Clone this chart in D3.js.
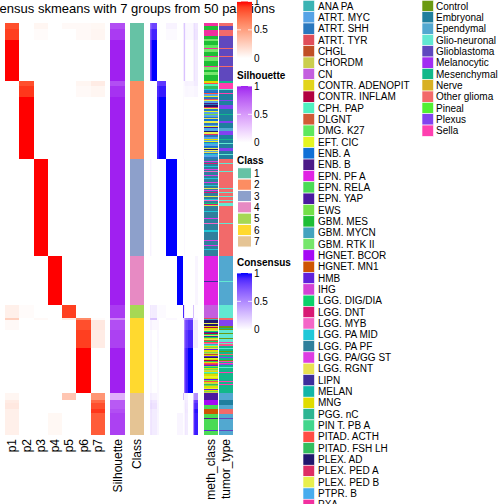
<!DOCTYPE html>
<html><head><meta charset="utf-8">
<script src="https://cdn.jsdelivr.net/npm/d3@7"></script>
<style>
body{margin:0;background:#fff}
svg{display:block}
text{font-family:"Liberation Sans",Arial,Helvetica,sans-serif;fill:#000}
</style>
</head><body>
<svg id="c" width="504" height="504"></svg>
<script>
// ---------------- DATA ----------------
const titleText = "consensus skmeans with 7 groups from 50 partitions";
const classes = [1,2,3,4,5,6,7];
const classColors = ["#66C2A5","#FC8D62","#8DA0CB","#E78AC3","#A6D854","#FFD92F","#E5C494"];
const columnLabels = ["p1","p2","p3","p4","p5","p6","p7"];

// row segments (sample groups sharing the same membership values)
const segClass = [1,1,1, 2,2,2, 3, 4, 5, 6,6,6,6, 7,7,7,7,7];
const segSize  = [6,11,41, 5,11,62, 97, 49, 13, 2,10,18,45, 7,3,6,4,22];
const p1 = [0.85,0.9,1, 0,0,0, 0, 0, 0.08, 0.25,0.03,0,0, 0.05,0.1,0.12,0.08,0.08];
const p2 = [0,0,0, 0.85,0.92,1, 0, 0, 0.02, 0,0,0,0, 0,0,0,0,0];
const p3 = [0.05,0.02,0, 0,0,0, 1, 0, 0, 0.03,0,0,0, 0,0,0,0,0];
const p4 = [0,0,0, 0,0,0, 0, 1, 0, 0,0,0,0, 0,0,0,0,0.04];
const p5 = [0.03,0,0, 0,0,0, 0, 0, 0.9, 0.1,0,0,0, 0.3,0,0,0,0];
const p6 = [0.03,0.03,0, 0.05,0.03,0, 0, 0, 0, 0.6,0.85,0.9,1, 0,0,0,0,0];
const p7 = [0.04,0.05,0, 0.1,0.05,0, 0, 0, 0, 0.02,0.12,0.1,0, 0.55,0.75,0.85,0.92,0.8];
const silhouette = [0.85,0.92,1, 0.85,0.95,1, 1, 1, 0.92, 0.6,0.85,0.9,1, 0.4,0.8,0.8,0.85,0.9];
const segConsensus = [0.8,0.92,1, 0.85,0.95,1, 1, 1, 0.95, 0.6,0.85,0.92,1, 0.5,0.85,0.92,1,0.97];

const methNames = ["ANA PA","ATRT. MYC","ATRT. SHH","ATRT. TYR","CHGL","CHORDM","CN","CONTR. ADENOPIT","CONTR. INFLAM","CPH. PAP","DLGNT","DMG. K27","EFT. CIC","ENB. A","ENB. B","EPN. PF A","EPN. RELA","EPN. YAP","EWS","GBM. MES","GBM. MYCN","GBM. RTK II","HGNET. BCOR","HGNET. MN1","HMB","IHG","LGG. DIG/DIA","LGG. DNT","LGG. MYB","LGG. PA MID","LGG. PA PF","LGG. PA/GG ST","LGG. RGNT","LIPN","MELAN","MNG","PGG. nC","PIN T. PB A","PITAD. ACTH","PITAD. FSH LH","PLEX. AD","PLEX. PED A","PLEX. PED B","PTPR. B","PXA"];
const methColors = ["#3BB3B3","#56A3E6","#2A78BE","#E04E5A","#C04F26","#CBCE4F","#C45FDF","#E2D41C","#B1023F","#50F0C0","#D15B36","#5EE85E","#E4F522","#1070D6","#4C1A88","#E023E3","#4ADB55","#4B18A0","#73E048","#1EBE35","#42A3BE","#76E66C","#A50AF5","#CE5402","#6021DC","#D442D5","#0DD26A","#D81A74","#F466C7","#20C8D8","#2F7F9C","#DD3DE3","#E9E151","#3E2E9C","#12B6A8","#E0DC00","#2DB592","#42D68C","#FF4D45","#33BE5E","#21176E","#DE2E65","#E8EF4E","#47ACEE","#F2309F"];
const tumorNames = ["Control","Embryonal","Ependymal","Glio-neuronal","Glioblastoma","Melanocytic","Mesenchymal","Nerve","Other glioma","Pineal","Plexus","Sella"];
const tumorColors = ["#6A9A12","#1F7F9E","#52A8D0","#62E8D2","#5F48BE","#A22EF2","#12B88A","#D8B024","#F26A6A","#52F032","#8242F0","#FF3FB0"];

// annotation runs [label, number of samples], in row order
const methRuns = [
 // class 1
 ["PXA",3],["GBM. MES",4],["PXA",6],["GBM. MES",3],["GBM. RTK II",2],["GBM. MES",4],["DMG. K27",3],["PXA",1],["GBM. RTK II",3],["GBM. MES",4],["PXA",1],["GBM. RTK II",4],["GBM. MES",5],["PXA",1],["GBM. RTK II",3],["GBM. MES",2],["GBM. RTK II",3],["GBM. MES",6],
 // class 2
 ["MNG",2],["PITAD. ACTH",1],["CPH. PAP",2],["PITAD. FSH LH",3],["LGG. PA MID",1],["ATRT. SHH",2],["ENB. A",1],["PITAD. ACTH",1],["ATRT. MYC",2],["EFT. CIC",1],["ATRT. SHH",2],["ATRT. TYR",1],["PLEX. PED B",1],["ATRT. MYC",2],["ENB. B",1],["ATRT. SHH",1],["PLEX. AD",2],["PLEX. PED A",1],["PLEX. PED B",1],["ATRT. SHH",2],["EFT. CIC",1],["ATRT. MYC",2],["EWS",1],["ATRT. MYC",2],["ATRT. SHH",1],["LGG. RGNT",1],["ENB. A",2],["PLEX. PED B",2],["ATRT. SHH",2],["ATRT. MYC",1],["EFT. CIC",1],["ENB. B",1],["PTPR. B",2],["ATRT. MYC",1],["PLEX. AD",1],["PLEX. PED B",2],["PLEX. PED A",1],["ATRT. SHH",2],["ATRT. MYC",2],["MNG",1],["ATRT. MYC",1],["EFT. CIC",1],["ATRT. SHH",1],["LGG. PA MID",1],["ATRT. MYC",2],["ENB. A",1],["ATRT. SHH",1],["PLEX. PED B",1],["PLEX. AD",1],["PLEX. PED B",1],["ATRT. MYC",1],["LGG. RGNT",1],["ATRT. SHH",1],["LGG. PA MID",1],["ATRT. MYC",2],["ATRT. SHH",2],
 // class 3
 ["LGG. PA PF",2],["LGG. PA/GG ST",1],["LGG. PA PF",1],["LGG. DNT",1],["LGG. PA PF",2],["LGG. PA MID",1],["LGG. PA PF",2],["LGG. PA/GG ST",1],["LGG. PA PF",1],["LGG. MYB",1],["LGG. PA PF",3],["LGG. PA/GG ST",1],["LGG. PA PF",2],["LGG. PA MID",1],["LGG. PA PF",3],["LGG. PA/GG ST",1],["LGG. PA PF",2],["LGG. PA MID",1],["LGG. PA PF",2],["LGG. RGNT",1],["LGG. PA PF",1],["LGG. PA/GG ST",1],["LGG. PA PF",1],["LGG. DNT",1],["LGG. PA PF",3],["LGG. RGNT",1],["LGG. PA PF",2],["LGG. PA MID",1],["LGG. MYB",1],["LGG. PA PF",2],["LGG. DIG/DIA",1],["LGG. DNT",1],["LGG. RGNT",1],["LGG. PA PF",5],["LGG. PA MID",1],["LGG. PA PF",6],["LGG. PA/GG ST",1],["LGG. PA PF",4],["LGG. MYB",1],["LGG. PA PF",6],["LGG. PA MID",2],["LGG. PA PF",8],["LGG. PA/GG ST",1],["LGG. PA PF",4],["LGG. PA/GG ST",1],["LGG. PA PF",3],["LGG. PA MID",1],["LGG. PA PF",6],
 // class 4
 ["EPN. PF A",25],["LIPN",1],["EPN. PF A",23],
 // class 5
 ["CN",13],
 // class 6
 ["ATRT. TYR",1],["ANA PA",1],["PLEX. AD",3],["PLEX. PED B",1],["PLEX. AD",2],["CONTR. ADENOPIT",1],["CONTR. INFLAM",1],["MNG",1],["CONTR. ADENOPIT",1],["LGG. RGNT",1],["LGG. DIG/DIA",1],["LIPN",1],["CONTR. INFLAM",1],["LGG. DIG/DIA",1],["LGG. RGNT",1],["LIPN",1],["LGG. DIG/DIA",1],["CONTR. ADENOPIT",1],["LGG. RGNT",1],["DLGNT",1],["LGG. DIG/DIA",1],["PITAD. ACTH",1],["LGG. MYB",1],["ANA PA",1],["CPH. PAP",1],["MNG",1],["EWS",1],["LGG. RGNT",1],["HMB",1],["MNG",1],["CONTR. ADENOPIT",1],["EWS",1],["CHORDM",1],["CHGL",1],["MNG",1],["HMB",1],["PLEX. AD",1],["EFT. CIC",1],["MNG",1],["CONTR. INFLAM",1],["PITAD. FSH LH",1],["MNG",1],["PITAD. ACTH",1],["PLEX. PED A",1],["HMB",1],["EWS",1],["LGG. DIG/DIA",1],["MNG",1],["EWS",1],["CHORDM",1],["MNG",1],["CPH. PAP",1],["EWS",1],["MNG",2],["EFT. CIC",2],["MNG",1],["HMB",1],["EWS",1],["PITAD. ACTH",1],["MNG",1],["CHORDM",1],["PITAD. FSH LH",1],["EWS",1],["MNG",2],["EFT. CIC",1],["HMB",1],["MNG",1],["EWS",1],["CHORDM",1],
 // class 7
 ["EPN. YAP",7],["HGNET. BCOR",5],["EPN. RELA",4],["HGNET. MN1",5],["EPN. RELA",4],["ENB. B",1],["EPN. RELA",11],["HMB",1],["EPN. RELA",4]
];
const tumorRuns = [
 // class 1
 ["Other glioma",3],["Glioblastoma",4],["Other glioma",6],["Glioblastoma",12],["Other glioma",1],["Glioblastoma",7],["Other glioma",1],["Glioblastoma",9],["Other glioma",1],["Glioblastoma",14],
 // class 2
 ["Mesenchymal",2],["Sella",6],["Glio-neuronal",1],["Embryonal",3],["Sella",1],["Embryonal",6],["Plexus",1],["Embryonal",4],["Plexus",4],["Embryonal",5],["Mesenchymal",1],["Embryonal",6],["Plexus",2],["Embryonal",5],["Ependymal",3],["Plexus",4],["Embryonal",4],["Mesenchymal",1],["Embryonal",3],["Glio-neuronal",1],["Embryonal",4],["Plexus",3],["Embryonal",3],["Glio-neuronal",1],["Embryonal",4],
 // class 3
 ["Other glioma",4],["Glio-neuronal",1],["Other glioma",7],["Glio-neuronal",1],["Other glioma",16],["Glio-neuronal",1],["Other glioma",3],["Glio-neuronal",1],["Other glioma",3],["Glio-neuronal",1],["Other glioma",3],["Glio-neuronal",1],["Other glioma",2],["Glio-neuronal",3],["Other glioma",17],["Glio-neuronal",1],["Other glioma",32],
 // class 4
 ["Ependymal",25],["Glio-neuronal",1],["Ependymal",23],
 // class 5
 ["Glio-neuronal",13],
 // class 6
 ["Other glioma",2],["Plexus",6],["Control",2],["Mesenchymal",1],["Control",1],["Glio-neuronal",3],["Control",1],["Glio-neuronal",4],["Control",1],["Glio-neuronal",3],["Sella",1],["Glio-neuronal",1],["Other glioma",1],["Sella",1],["Mesenchymal",2],["Glio-neuronal",1],["Mesenchymal",2],["Control",1],["Mesenchymal",2],["Other glioma",1],["Mesenchymal",2],["Plexus",1],["Mesenchymal",2],["Control",1],["Sella",1],["Mesenchymal",1],["Sella",1],["Plexus",1],["Mesenchymal",2],["Glio-neuronal",1],["Mesenchymal",4],["Sella",1],["Mesenchymal",8],["Sella",1],["Mesenchymal",2],["Sella",1],["Mesenchymal",8],
 // class 7
 ["Ependymal",7],["Embryonal",5],["Ependymal",4],["Other glioma",5],["Ependymal",4],["Glioblastoma",1],["Ependymal",11],["Glioblastoma",1],["Ependymal",4]
];
const legendBreaks = [0, 0.5, 1];
const classLegendLabels = ["1","2","3","4","5","6","7"];

// ---------------- DRAW ----------------
const svg = d3.select("#c");
const N = d3.sum(segSize);
const y = d3.scaleLinear().domain([0, N]).range([23, 435]);
const xP = d3.scaleBand().domain(columnLabels).range([5, 105]);
const xCons = d3.scaleLinear().domain([0, N]).range([150, 198]);
const annoX = d3.scaleOrdinal().domain(["Silhouette","Class","meth_class","tumor_type"]).range([[110,125],[130,144],[204,218],[219,233]]);

const redScale = d3.scaleLinear().domain([0,1]).range(["#ffffff","#ff0000"]).interpolate(d3.interpolateLab);
const purpleScale = d3.scaleLinear().domain([0,1]).range(["#ffffff","#A020F0"]).interpolate(d3.interpolateLab);
const blueScale = d3.scaleLinear().domain([0,1]).range(["#ffffff","#0000ff"]).interpolate(d3.interpolateLab);
const classScale = d3.scaleOrdinal().domain(classes).range(classColors);
const methScale = d3.scaleOrdinal().domain(methNames).range(methColors);
const tumorScale = d3.scaleOrdinal().domain(tumorNames).range(tumorColors);

// title first (legends overlap it)
svg.append("text").attr("x", 123.5).attr("y", 13).attr("text-anchor","middle")
  .attr("font-size", 13).text(titleText);

const pArrays = [p1,p2,p3,p4,p5,p6,p7];
let acc = 0;
const segs = segSize.map((n,i) => { const s = {i, n, cls: segClass[i], start: acc, end: acc + n}; acc += n; return s; });

// membership heatmap
const gP = svg.append("g").attr("shape-rendering","crispEdges");
columnLabels.forEach((lab,k) => {
  gP.append("g").selectAll("rect").data(segs).join("rect")
    .attr("x", xP(lab)).attr("width", xP.bandwidth())
    .attr("y", d => y(d.start)).attr("height", d => y(d.end) - y(d.start))
    .attr("fill", d => redScale(pArrays[k][d.i]));
});

// silhouette & class
const gA = svg.append("g").attr("shape-rendering","crispEdges");
gA.selectAll("rect.sil").data(segs).join("rect").attr("class","sil")
  .attr("x", annoX("Silhouette")[0]).attr("width", annoX("Silhouette")[1]-annoX("Silhouette")[0])
  .attr("y", d => y(d.start)).attr("height", d => y(d.end)-y(d.start))
  .attr("fill", d => purpleScale(silhouette[d.i]));
gA.selectAll("rect.cls").data(segs).join("rect").attr("class","cls")
  .attr("x", annoX("Class")[0]).attr("width", annoX("Class")[1]-annoX("Class")[0])
  .attr("y", d => y(d.start)).attr("height", d => y(d.end)-y(d.start))
  .attr("fill", d => classScale(d.cls));

// consensus matrix
function consensus(a, b) {
  if (a.cls === b.cls) return segConsensus[a.i] * segConsensus[b.i];
  return d3.sum(pArrays, p => p[a.i] * p[b.i]);
}
svg.append("g").attr("shape-rendering","crispEdges")
  .selectAll("rect").data(d3.cross(segs, segs)).join("rect")
  .attr("x", d => xCons(d[1].start)).attr("width", d => xCons(d[1].end) - xCons(d[1].start))
  .attr("y", d => y(d[0].start)).attr("height", d => y(d[0].end) - y(d[0].start))
  .attr("fill", d => blueScale(Math.min(1, consensus(d[0], d[1]))));

// annotation runs
function runsToRects(runs) { let a = 0; return runs.map(([name, n]) => { const r = {name, start: a, end: a + n}; a += n; return r; }); }
const gR = svg.append("g").attr("shape-rendering","crispEdges");
gR.selectAll("rect.m").data(runsToRects(methRuns)).join("rect").attr("class","m")
  .attr("x", annoX("meth_class")[0]).attr("width", annoX("meth_class")[1]-annoX("meth_class")[0])
  .attr("y", d => y(d.start)).attr("height", d => y(d.end)-y(d.start))
  .attr("fill", d => methScale(d.name));
gR.selectAll("rect.t").data(runsToRects(tumorRuns)).join("rect").attr("class","t")
  .attr("x", annoX("tumor_type")[0]).attr("width", annoX("tumor_type")[1]-annoX("tumor_type")[0])
  .attr("y", d => y(d.start)).attr("height", d => y(d.end)-y(d.start))
  .attr("fill", d => tumorScale(d.name));

// bottom labels
const bottomLabels = columnLabels.map(l => ({t: l, x: xP(l) + xP.bandwidth()/2}))
  .concat(["Silhouette","Class","meth_class","tumor_type"].map(l => ({t: l, x: (annoX(l)[0]+annoX(l)[1])/2})));
svg.append("g").selectAll("text").data(bottomLabels).join("text")
  .attr("transform", d => `translate(${d.x},439) rotate(-90)`)
  .attr("text-anchor","end").attr("dy","0.35em").attr("font-size",12)
  .text(d => d.t);

// ---------------- LEGENDS ----------------
const defs = svg.append("defs");
function colorBar(id, scale, x, yTop, h, title) {
  const grad = defs.append("linearGradient").attr("id", id).attr("x1",0).attr("y1",1).attr("x2",0).attr("y2",0);
  d3.range(0, 1.0001, 0.1).forEach(t => grad.append("stop").attr("offset", t).attr("stop-color", scale(t)));
  const g = svg.append("g");
  if (title) g.append("text").attr("x", x).attr("y", yTop - 7).attr("font-size", 10).attr("font-weight","bold").text(title);
  const by = d3.scaleLinear().domain([0,1]).range([yTop + h, yTop]);
  g.append("rect").attr("x", x).attr("y", by(1)).attr("width", 15).attr("height", h).attr("fill", `url(#${id})`);
  legendBreaks.forEach(v => {
    g.append("line").attr("x1", x).attr("x2", x+4).attr("y1", by(v)).attr("y2", by(v)).attr("stroke","#fff").attr("stroke-width",0.8);
    g.append("line").attr("x1", x+11).attr("x2", x+15).attr("y1", by(v)).attr("y2", by(v)).attr("stroke","#fff").attr("stroke-width",0.8);
    g.append("text").attr("x", x + 17).attr("y", by(v)).attr("dy","0.35em").attr("font-size",10).text(v === 0.5 ? "0.5" : String(v));
  });
}
colorBar("gRed", redScale, 237, 1.5, 56.7, null);
colorBar("gPur", purpleScale, 237, 86, 56.7, "Silhouette");

// class legend
const gCl = svg.append("g");
gCl.append("text").attr("x", 237).attr("y", 163.5).attr("font-size",10).attr("font-weight","bold").text("Class");
gCl.selectAll("rect").data(classes).join("rect")
  .attr("x", 237.5).attr("y", (d,i) => 167.7 + i*11.34).attr("width", 14).attr("height", 11.34)
  .attr("fill", d => classScale(d)).attr("stroke","#fff").attr("stroke-width",1);
gCl.selectAll("text.l").data(classLegendLabels).join("text").attr("class","l")
  .attr("x", 254).attr("y", (d,i) => 173.4 + i*11.34).attr("dy","0.35em").attr("font-size",10).text(d => d);

colorBar("gBlu", blueScale, 237, 273, 56.7, "Consensus");

// meth_class legend
const gM = svg.append("g");
gM.selectAll("rect").data(methNames).join("rect")
  .attr("x", 303).attr("y", (d,i) => 0.3 + i*11.34).attr("width", 11.5).attr("height", 11.34)
  .attr("fill", d => methScale(d)).attr("stroke","#fff").attr("stroke-width",0.6);
gM.selectAll("text").data(methNames).join("text")
  .attr("x", 318).attr("y", (d,i) => 6 + i*11.34).attr("dy","0.35em").attr("font-size",10).text(d => d);

// tumor_type legend
const gT = svg.append("g");
gT.selectAll("rect").data(tumorNames).join("rect")
  .attr("x", 422).attr("y", (d,i) => 0.3 + i*11.34).attr("width", 11.5).attr("height", 11.34)
  .attr("fill", d => tumorScale(d)).attr("stroke","#fff").attr("stroke-width",0.6);
gT.selectAll("text").data(tumorNames).join("text")
  .attr("x", 436).attr("y", (d,i) => 6 + i*11.34).attr("dy","0.35em").attr("font-size",10).text(d => d);
</script>
</body></html>
